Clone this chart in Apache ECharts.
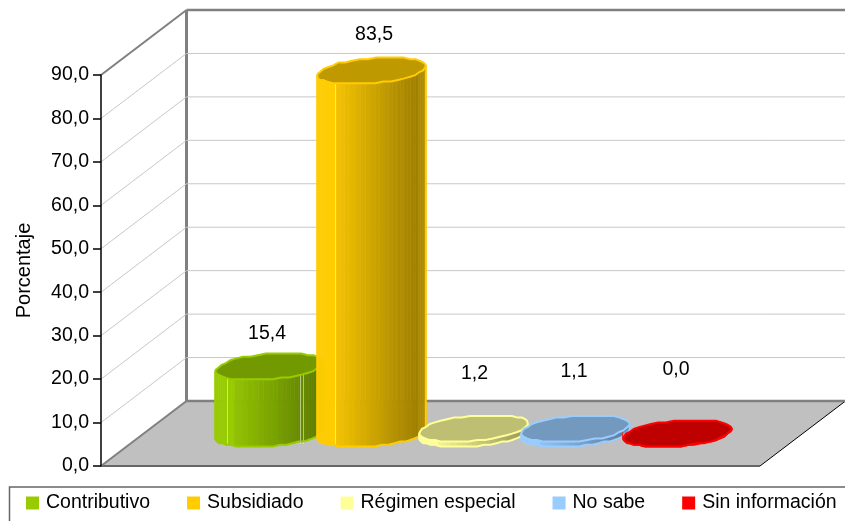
<!DOCTYPE html>
<html>
<head>
<meta charset="utf-8">
<style>
  html, body { margin: 0; padding: 0; background: #fff; }
  #chart { width: 845px; height: 521px; }
</style>
<script src="https://cdn.jsdelivr.net/npm/echarts@6/dist/echarts.min.js"></script>
</head>
<body>
<div id="chart"></div>
<script>
const categories = ["Contributivo", "Subsidiado", "Régimen especial", "No sabe", "Sin información"];
const values = [15.4, 83.5, 1.2, 1.1, 0.0];
const ticks = [0, 10, 20, 30, 40, 50, 60, 70, 80, 90];

const colors = ["#99cc00", "#ffcc00", "#ffff99", "#99ccff", "#ff0000"];
const labelRise = [33, 36, 55, 57, 64];
const labelNudge = [-2.5, 2.5, 1, -1.5, -1.5];
const facetLines = [[0.105, 0.78, 0.81], [0.165], [], [], []];

const font = '"Liberation Sans", Arial, sans-serif';
const depthX = 85.5;
const depthY = 65;
const radiusX = 50.5; // half width of the cylinder along the x axis
const radiusDepth = 0.2; // radius along the depth axis, as part of the depth
const xMin = -1.233;
const xMax = 5.228;

let chart = echarts.init(document.getElementById("chart"));

function comma(v) {
  return v.toFixed(1).replace(".", ",");
}

function shadeColor(hex, k) {
  let n = parseInt(hex.slice(1), 16);
  let r = Math.round(((n >> 16) & 255) * k);
  let g = Math.round(((n >> 8) & 255) * k);
  let b = Math.round((n & 255) * k);
  return "rgb(" + r + "," + g + "," + b + ")";
}

// point of the skewed ellipse, a bit squarer than a true one, t in radians
function ring(c, t) {
  let bx = depthX * radiusDepth;
  let by = depthY * radiusDepth;
  let ct = Math.cos(t);
  let st = Math.sin(t);
  let cs = Math.sign(ct) * Math.pow(Math.abs(ct), 0.9);
  let sn = Math.sign(st) * Math.pow(Math.abs(st), 0.9);
  return [c[0] + radiusX * cs + bx * sn, c[1] - by * sn];
}

// same point, stepped in y like the facets of the original
function rough(c, t) {
  let p = ring(c, t);
  return [p[0], Math.round(p[1] / 1.6) * 1.6];
}

function leftmostAngle() {
  let best = Math.PI;
  let bestX = Infinity;
  for (let t = Math.PI; t < Math.PI * 1.5; t += 0.01) {
    let p = ring([0, 0], t);
    if (p[0] < bestX) {
      bestX = p[0];
      best = t;
    }
  }
  return best;
}

function renderBar(params, api) {
  let x = api.value(0);
  let v = api.value(1);
  let color = api.visual("color");
  let index = params.seriesIndex - 1;
  let topFront = api.coord([x, v]);
  let baseFront = api.coord([x, 0]);
  let top = [topFront[0] + depthX / 2, topFront[1] - depthY / 2];
  let base = [baseFront[0] + depthX / 2, baseFront[1] - depthY / 2];

  let start = leftmostAngle();
  let children = [];
  let leftX = ring(top, start)[0];
  let width = 2 * (top[0] - leftX);

  // side of the cylinder, one strip per facet
  let strips = 36;
  for (let i = 0; i < strips; i++) {
    let a = start + (Math.PI * i) / strips;
    let b = start + (Math.PI * (i + 1)) / strips;
    let p1 = ring(top, a);
    let p2 = ring(top, b);
    let p3 = rough(base, b);
    let p4 = rough(base, a);
    let u = ((p1[0] + p2[0]) / 2 - leftX) / width;
    let k = u < 0.17 ? 1 : 0.96 - ((u - 0.17) * 0.34) / 0.76;
    if (u > 0.93) k = 0.68;
    let fill = shadeColor(color, k);
    children.push({
      type: "polygon",
      shape: { points: [p1, p2, p3, p4] },
      style: { fill: fill, stroke: fill, lineWidth: 0.6 },
    });
  }

  // pale lines where the facets meet
  facetLines[index].forEach(function (u) {
    let px = Math.round(leftX + u * width) + 0.5;
    children.push({
      type: "line",
      shape: { x1: px, y1: top[1], x2: px, y2: base[1] + depthY * radiusDepth * 0.8 },
      style: { stroke: "rgba(255,255,255,0.5)", lineWidth: 1 },
    });
  });

  // outline of the side
  let outline = [];
  outline.push(ring(top, start));
  for (let i = 0; i <= 24; i++) {
    outline.push(rough(base, start + (Math.PI * i) / 24));
  }
  outline.push(ring(top, start + Math.PI));
  children.push({
    type: "polyline",
    shape: { points: outline },
    style: { stroke: color, lineWidth: 2, fill: null },
  });

  // lid
  let lid = [];
  for (let i = 0; i < 40; i++) {
    lid.push(rough(top, start + (Math.PI * 2 * i) / 40));
  }
  children.push({
    type: "polygon",
    shape: { points: lid },
    style: { fill: shadeColor(color, 0.75), stroke: color, lineWidth: 2 },
  });

  children.push({
    type: "text",
    style: {
      x: top[0] + labelNudge[index],
      y: top[1] - labelRise[index],
      text: comma(v),
      fill: "#000",
      font: "19.5px " + font,
      align: "center",
      verticalAlign: "middle",
    },
  });

  return { type: "group", children: children };
}

// walls and floor, one data item per tick
function renderFrame(params, api) {
  let v = api.value(0);
  let left = api.coord([xMin, v]);
  let right = api.coord([xMax, v]);
  let backLeft = [left[0] + depthX, left[1] - depthY];
  let backRight = [right[0] + depthX, right[1] - depthY];
  let children = [];
  let edge = v === 0 || v === 90;

  if (v === 0) {
    let topWall = api.coord([xMin, 90]);
    children.push({
      type: "polygon",
      shape: { points: [left, backLeft, backRight, right] },
      style: { fill: "#c0c0c0" },
    });
    children.push({
      type: "line",
      shape: { x1: backLeft[0], y1: topWall[1] - depthY, x2: backLeft[0], y2: backLeft[1] },
      style: { stroke: "#808080", lineWidth: 3 },
    });
    children.push({
      type: "line",
      shape: { x1: right[0], y1: right[1], x2: backRight[0], y2: backRight[1] },
      style: { stroke: "#000", lineWidth: 1 },
    });
    children.push({
      type: "line",
      shape: { x1: left[0], y1: left[1], x2: right[0], y2: right[1] },
      style: { stroke: "#666", lineWidth: 2 },
    });
  }
  children.push({
    type: "line",
    shape: { x1: left[0], y1: left[1], x2: backLeft[0], y2: backLeft[1] },
    style: { stroke: edge ? "#808080" : "#c8c8c8", lineWidth: edge ? 2 : 1 },
  });
  children.push({
    type: "line",
    shape: { x1: backLeft[0], y1: backLeft[1], x2: backRight[0], y2: backRight[1] },
    style: { stroke: edge ? "#808080" : "#c8c8c8", lineWidth: edge ? 2.5 : 1 },
  });
  return { type: "group", children: children };
}

let series = [
  {
    name: "frame",
    type: "custom",
    silent: true,
    z: 1,
    renderItem: renderFrame,
    encode: { x: [], y: 0 },
    data: ticks.map(function (t) {
      return [t];
    }),
  },
];
categories.forEach(function (name, i) {
  series.push({
    name: name,
    type: "custom",
    silent: true,
    z: 3 + i,
    itemStyle: { color: colors[i] },
    renderItem: renderBar,
    encode: { x: 0, y: 1 },
    data: [[i, values[i]]],
  });
});

let option = {
  backgroundColor: "#fff",
  animation: false,
  textStyle: { fontFamily: font },
  grid: { left: 101, top: 75, width: 659, height: 391 },
  graphic: [
    {
      type: "rect",
      silent: true,
      shape: { x: 9.5, y: 487, width: 860, height: 60 },
      style: { fill: "none", stroke: "#666", lineWidth: 1.5 },
    },
  ],
  legend: {
    data: categories,
    left: 26,
    top: 493,
    padding: 0,
    icon: "rect",
    itemWidth: 13,
    itemHeight: 13,
    itemGap: 37,
    textStyle: { fontSize: 19.5, color: "#000", fontFamily: font, padding: [0, 0, 0, 2] },
  },
  xAxis: { type: "value", min: xMin, max: xMax, show: false },
  yAxis: {
    type: "value",
    min: 0,
    max: 90,
    interval: 10,
    name: "Porcentaje",
    nameLocation: "middle",
    nameGap: 67,
    nameTextStyle: { fontSize: 20, color: "#000", fontFamily: font },
    axisLine: { show: true, onZero: false, lineStyle: { color: "#000", width: 1.5 } },
    axisTick: { show: true, length: 8, lineStyle: { color: "#000", width: 1.5 } },
    axisLabel: {
      color: "#000",
      fontSize: 19.5,
      fontFamily: font,
      margin: 12,
      formatter: function (v) {
        return comma(v);
      },
    },
    splitLine: { show: false },
    z: 6,
  },
  series: series,
};

option && chart.setOption(option);
</script>
</body>
</html>
